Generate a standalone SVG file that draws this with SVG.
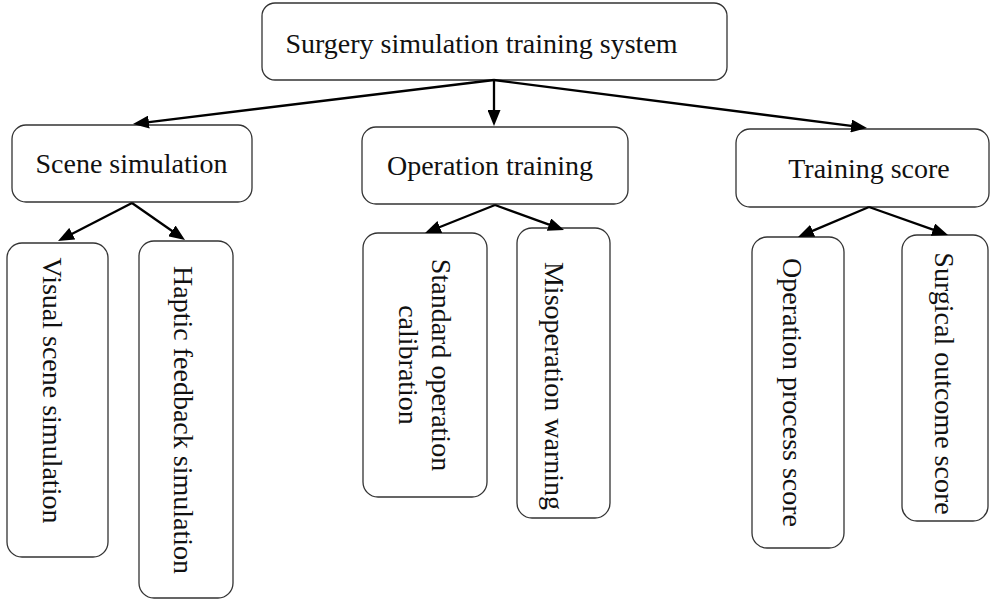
<svg xmlns="http://www.w3.org/2000/svg" width="990" height="605" viewBox="0 0 990 605">
<style>
.box{fill:#fff;stroke:#333;stroke-width:1.3}
.t{font-family:"Liberation Serif","Times New Roman",serif;font-size:28px;fill:#111;text-anchor:middle}
.c{stroke:#000;stroke-width:2.3;fill:none;marker-end:url(#ah)}
</style>
<defs>
<marker id="ah" markerUnits="userSpaceOnUse" markerWidth="16" markerHeight="13" refX="6" refY="6.5" orient="auto">
<path d="M0,0 L16,6.5 L0,13 z" fill="#000"/>
</marker>
</defs>
<rect width="990" height="605" fill="#fff"/>
<g id="root">
<rect class="box" x="262" y="3" width="465" height="77" rx="13"/>
<text class="t" x="481.5" y="53">Surgery simulation training system</text>
</g>
<g id="scene">
<rect class="box" x="12" y="125" width="240" height="77" rx="14"/>
<text class="t" x="131.5" y="173">Scene simulation</text>
</g>
<g id="operation">
<rect class="box" x="362" y="127" width="266" height="77" rx="14"/>
<text class="t" x="490" y="175">Operation training</text>
</g>
<g id="score">
<rect class="box" x="736" y="129" width="253" height="78" rx="14"/>
<text class="t" x="869" y="178">Training score</text>
</g>
<g id="visual">
<rect class="box" x="7" y="243" width="101" height="314" rx="15"/>
<text class="t" transform="translate(43,390.5) rotate(90)">Visual scene simulation</text>
</g>
<g id="haptic">
<rect class="box" x="139" y="241" width="94" height="357" rx="15"/>
<text class="t" transform="translate(174,420) rotate(90)">Haptic feedback simulation</text>
</g>
<g id="standard">
<rect class="box" x="363" y="233" width="124" height="264" rx="15"/>
<text class="t" transform="translate(432,365) rotate(90)"><tspan x="0" y="0">Standard operation</tspan><tspan x="0" y="33">calibration</tspan></text>
</g>
<g id="misoperation">
<rect class="box" x="517" y="228" width="93" height="290" rx="15"/>
<text class="t" transform="translate(545,386) rotate(90)">Misoperation warning</text>
</g>
<g id="process">
<rect class="box" x="752" y="237" width="92" height="311" rx="15"/>
<text class="t" transform="translate(783,392.5) rotate(90)">Operation process score</text>
</g>
<g id="outcome">
<rect class="box" x="902" y="235" width="86" height="286" rx="15"/>
<text class="t" transform="translate(935,383.5) rotate(90)">Surgical outcome score</text>
</g>
<g id="connectors">
<line class="c" x1="494" y1="80" x2="142.9" y2="122.8"/>
<line class="c" x1="494" y1="80" x2="494" y2="116"/>
<line class="c" x1="494" y1="80" x2="857.1" y2="126.7"/>
<line class="c" x1="132" y1="203" x2="66.9" y2="236.4"/>
<line class="c" x1="132" y1="203" x2="176.8" y2="234.3"/>
<line class="c" x1="495" y1="205" x2="434.3" y2="229.3"/>
<line class="c" x1="495" y1="205" x2="554.6" y2="226.6"/>
<line class="c" x1="869" y1="207" x2="807.2" y2="233.1"/>
<line class="c" x1="869" y1="207" x2="938.6" y2="231.7"/>
</g>
</svg>
